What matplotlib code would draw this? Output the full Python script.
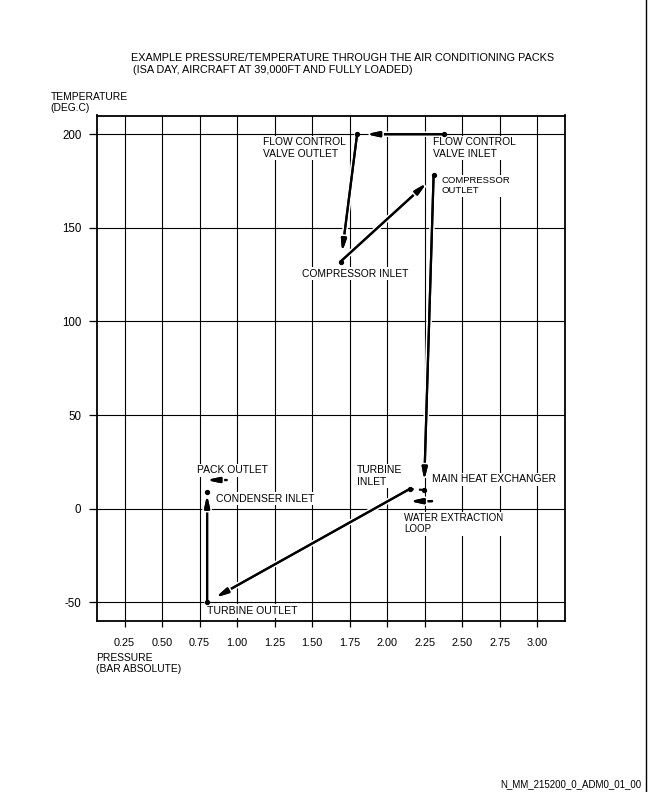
import matplotlib
matplotlib.use("Agg")
import matplotlib.pyplot as plt
import matplotlib.patheffects as pe

plt.rcParams['font.family'] = ['Liberation Sans', 'DejaVu Sans']

# ---------------- data ----------------
x_ticks = [0.25, 0.50, 0.75, 1.00, 1.25, 1.50, 1.75, 2.00, 2.25, 2.50, 2.75, 3.00]
x_tick_labels = ["0.25", "0.50", "0.75", "1.00", "1.25", "1.50", "1.75", "2.00",
                 "2.25", "2.50", "2.75", "3.00"]
y_ticks = [-50, 0, 50, 100, 150, 200]
y_tick_labels = ["-50", "0", "50", "100", "150", "200"]

# state points (pressure bar abs, temperature deg C)
dot_x = [2.38, 1.80, 1.69, 2.31, 2.245, 2.15, 0.80, 0.80]
dot_y = [200, 200, 132, 178, 10, 10.5, -50, 9]

# arrows: start -> end
arrow_x0 = [2.38, 1.80, 1.69, 2.31, 2.30, 2.15, 0.80, 0.93]
arrow_y0 = [200, 200, 132, 178, 4, 10.5, -50, 15.3]
arrow_x1 = [1.86, 1.70, 2.265, 2.248, 2.15, 0.855, 0.80, 0.795]
arrow_y1 = [200, 137, 174, 15, 4, -47.5, 7.5, 15.3]

# short dashed link turbine inlet - main heat exchanger
link_x = [2.15, 2.245]
link_y = [10.5, 10]

label_texts = ["FLOW CONTROL\nVALVE OUTLET", "FLOW CONTROL\nVALVE INLET",
               "COMPRESSOR\nOUTLET", "COMPRESSOR INLET", "PACK OUTLET",
               "CONDENSER INLET", "TURBINE\nINLET", "MAIN HEAT EXCHANGER",
               "WATER EXTRACTION\nLOOP", "TURBINE OUTLET"]
label_x = [1.175, 2.304, 2.366, 1.431, 0.731, 0.857, 1.801, 2.297, 2.115, 0.797]
label_y = [192.6, 192.6, 172.4, 125.5, 20.6, 5.3, 17.5, 15.7, -8.1, -54.7]
label_size = [7.4, 7.4, 6.8, 7.4, 7.5, 7.5, 7.5, 7.5, 7.0, 7.6]

W, H = 648, 792
fig = plt.figure(figsize=(W / 100, H / 100), dpi=100)
fig.patch.set_facecolor("white")


def fx(px):
    return px / W


def fy(py):
    return 1 - py / H


ax = fig.add_axes([fx(96.7), fy(621), fx(565.3) - fx(96.7), fy(115.5) - fy(621)])
ax.set_xlim(0.064, 3.188)
ax.set_ylim(-60, 210)

ax.set_xticks(x_ticks)
ax.set_xticklabels(x_tick_labels, fontsize=7.8)
ax.set_yticks(y_ticks)
ax.set_yticklabels(y_tick_labels, fontsize=8.3)
ax.tick_params(axis='x', direction='out', length=4, width=0.9, pad=8, colors='black')
ax.tick_params(axis='y', direction='out', length=6, width=0.9, pad=5, colors='black')
ax.grid(True, color='black', linewidth=0.8, zorder=0.5)
ax.set_axisbelow(True)
for s in ax.spines.values():
    s.set_linewidth(1.3)
    s.set_color('black')

# labels with white background (interrupt grid lines)
for t, x, y, s in zip(label_texts, label_x, label_y, label_size):
    ax.text(x, y, t, fontsize=s, ha='left', va='center', linespacing=1.15,
            zorder=2, bbox=dict(boxstyle='square,pad=0.15', fc='white', ec='none'))

# arrows
for x0, y0, x1, y1 in zip(arrow_x0, arrow_y0, arrow_x1, arrow_y1):
    ann = ax.annotate('', xy=(x1, y1), xytext=(x0, y0),
                      arrowprops=dict(arrowstyle='-|>,head_length=0.7,head_width=0.15',
                                      mutation_scale=10, lw=1.6, color='black',
                                      shrinkA=0, shrinkB=0), zorder=3)
    ann.arrow_patch.set_path_effects([pe.withStroke(linewidth=4, foreground='white'),
                                      pe.Normal()])

ax.plot(link_x, link_y, color='black', lw=1.5, ls=(0, (2, 2.5)), zorder=3)
ax.plot(dot_x, dot_y, 'o', ms=2.8, color='black', zorder=4)

# titles and axis labels
fig.text(fx(131), fy(58), "EXAMPLE PRESSURE/TEMPERATURE THROUGH THE AIR CONDITIONING PACKS",
         fontsize=7.85, ha='left', va='center')
fig.text(fx(133), fy(70), "(ISA DAY, AIRCRAFT AT 39,000FT AND FULLY LOADED)",
         fontsize=7.85, ha='left', va='center')
fig.text(fx(51), fy(97), "TEMPERATURE", fontsize=7.4, ha='left', va='center')
fig.text(fx(50), fy(108), "(DEG.C)", fontsize=7.4, ha='left', va='center')
fig.text(fx(96), fy(658), "PRESSURE", fontsize=7.4, ha='left', va='center')
fig.text(fx(96), fy(669), "(BAR ABSOLUTE)", fontsize=7.4, ha='left', va='center')
fig.text(fx(641), fy(784), "N_MM_215200_0_ADM0_01_00", fontsize=7.0, ha='right', va='center')

# page border on right
fig.add_artist(plt.Line2D([fx(645.5), fx(645.5)], [0, 1], transform=fig.transFigure,
                          color='black', lw=1.0))

fig.savefig("out.png", dpi=100, facecolor='white')
